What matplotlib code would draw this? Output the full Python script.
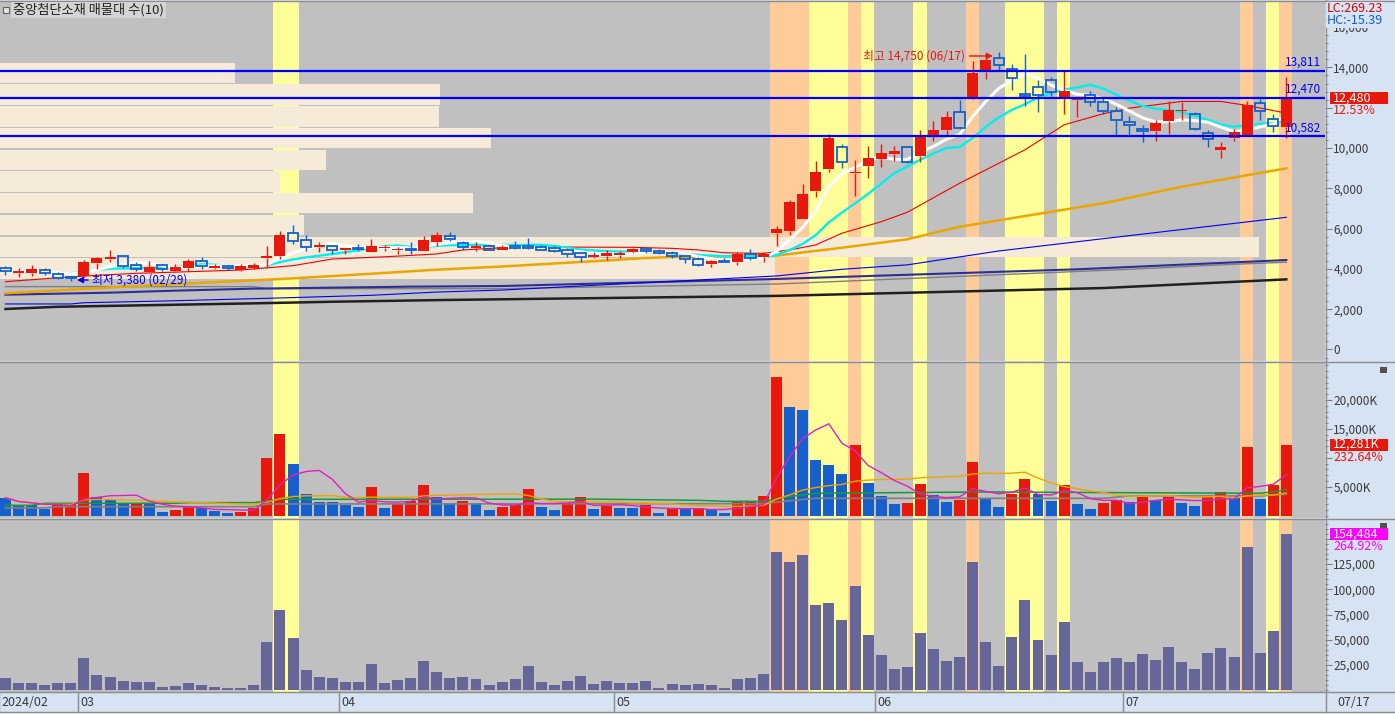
import matplotlib
matplotlib.use("Agg")
import matplotlib.pyplot as plt
from matplotlib.patches import Rectangle
from matplotlib.lines import Line2D
from matplotlib.ticker import MultipleLocator, FuncFormatter
import numpy as np
import pandas as pd

plt.rcParams['font.family'] = ['Noto Sans CJK KR', 'DejaVu Sans']

TITLE = "중앙첨단소재 매물대 수(10)"
month_labels = ["2024/02", "03", "04", "05", "06", "07"]
month_first_day = [0, 6, 26, 47, 67, 86]
last_date = "07/17"

# daily candles, 2024-02-22 .. 2024-07-17
opens = [4050, 3790, 3790, 3950, 3740, 3620, 3650, 4290, 4480, 4620,
         4200, 3840, 4200, 3920, 4040, 4400, 4040, 4120, 3950, 4040,
         4530, 4620, 5790, 5410, 5080, 5140, 4930, 5060, 4830, 5030,
         4930, 5010, 4880, 5330, 5640, 5290, 5060, 5150, 4950, 5150,
         5110, 5100, 5050, 4950, 4770, 4570, 4620, 4700, 4830, 5000,
         4900, 4800, 4650, 4470, 4220, 4400, 4330, 4750, 4580, 5790,
         5860, 6500, 7860, 8950, 10060, 8750, 9100, 9450, 9690, 10050,
         9580, 10620, 10870, 11780, 12520, 13760, 14480, 13900, 12650, 13020,
         13350, 12490, 12360, 12640, 12300, 11860, 11300, 10950, 10850, 11320,
         11820, 11700, 10750, 9900, 10490, 10620, 12250, 11460, 11030]
highs = [4150, 4030, 4170, 4050, 3840, 3670, 4420, 4580, 4950, 4640,
         4330, 4400, 4230, 4250, 4500, 4600, 4250, 4200, 4230, 4280,
         5150, 5900, 6200, 5660, 5330, 5200, 5060, 5260, 5460, 5180,
         5090, 5310, 5610, 5820, 5810, 5370, 5310, 5260, 5210, 5360,
         5520, 5210, 5160, 5060, 4770, 4860, 4930, 4910, 5060, 5050,
         4980, 4900, 4650, 4570, 4430, 4560, 4860, 5010, 4830, 6120,
         7440, 8190, 9330, 10670, 10220, 9380, 10120, 10220, 10120, 10100,
         10870, 11360, 11860, 12400, 14340, 14590, 14750, 14150, 14670, 13350,
         13520, 13830, 12520, 12850, 12520, 12030, 11610, 11150, 11370, 12310,
         12280, 11780, 10870, 10290, 10950, 12350, 12450, 11700, 13500]
lows = [3720, 3620, 3670, 3720, 3500, 3380, 3600, 4000, 4320, 4050,
        3900, 3830, 3920, 3840, 3920, 4000, 3990, 3950, 3900, 3970,
        4050, 4500, 5240, 4910, 4860, 4760, 4760, 4870, 4830, 4870,
        4720, 4760, 4880, 5160, 5390, 4930, 4880, 4950, 4950, 5000,
        4980, 4950, 4830, 4590, 4330, 4530, 4420, 4560, 4780, 4800,
        4750, 4530, 4280, 4150, 4100, 4330, 4200, 4420, 4320, 5160,
        5660, 6500, 7560, 8800, 9030, 7640, 8500, 9050, 9330, 9250,
        9300, 10370, 10620, 10950, 12440, 13430, 13850, 12860, 12060, 11780,
        12600, 11700, 11530, 12080, 11700, 10620, 10650, 10320, 10370, 10700,
        11370, 10870, 10040, 9500, 10370, 10620, 11400, 10790, 10500]
closes = [3900, 3890, 3970, 3800, 3560, 3540, 4320, 4530, 4600, 4120,
          4000, 4090, 3990, 4090, 4370, 4150, 4140, 4020, 4140, 4170,
          4620, 5660, 5380, 5080, 5210, 4950, 5060, 5000, 5160, 5080,
          5010, 4930, 5410, 5660, 5480, 5100, 5160, 4950, 5110, 5050,
          5060, 4950, 4880, 4750, 4600, 4670, 4770, 4770, 5010, 4880,
          4800, 4650, 4500, 4200, 4400, 4330, 4750, 4550, 4720, 5960,
          7300, 7740, 8830, 10490, 9310, 8830, 9480, 9730, 9830, 9300,
          10620, 10900, 11530, 11000, 13730, 14390, 14140, 13480, 12600, 12640,
          12770, 12820, 12490, 12300, 11830, 11400, 11150, 10830, 11250, 11900,
          11860, 10950, 10440, 10040, 10770, 12150, 11860, 11090, 12480]

# volume in thousand shares
volume_k = [3100, 1780, 1750, 1200, 1890, 1950, 7370, 3270, 2700, 2100,
            2250, 2200, 620, 970, 1660, 1260, 850, 450, 680, 1370,
            9960, 14120, 8930, 3740, 2350, 2300, 1780, 1540, 4950, 1370,
            2010, 2470, 5300, 3270, 1950, 2530, 2180, 970, 1490, 1890,
            4600, 1490, 970, 2010, 3220, 1140, 1710, 1310, 1290, 1830,
            450, 1310, 1140, 1310, 1050, 450, 2350, 2400, 3390, 23980,
            18790, 18270, 9620, 8750, 7200, 12210, 5640, 3390, 2010, 2180,
            5470, 3560, 2350, 2700, 9270, 3040, 1490, 3740, 6330, 3740,
            2530, 5290, 2010, 1140, 2180, 2700, 2350, 3220, 2700, 3220,
            2180, 1660, 3390, 4080, 3040, 11870, 2870, 5279, 12281]

# trading value in million won
value_m = [12180, 7230, 7230, 5250, 7230, 7230, 31980, 15150, 13170, 9210,
           8220, 8220, 3270, 4260, 7230, 5250, 3270, 2280, 2280, 5250,
           47820, 79500, 51780, 20100, 13170, 12180, 8220, 8220, 26040, 7230,
           10200, 12180, 29010, 18120, 12180, 13170, 11190, 5250, 8220, 11190,
           24060, 8220, 5250, 9210, 14160, 6240, 9210, 7230, 7230, 9210,
           2280, 6240, 5250, 6240, 5250, 2280, 11190, 12180, 16140, 136900,
           127000, 133950, 84450, 86430, 69600, 103260, 54750, 34950, 21090, 23070,
           56730, 40890, 29010, 32970, 127020, 47820, 24060, 52770, 89400, 49800,
           34950, 67620, 28020, 18120, 28020, 31980, 28020, 35940, 30000, 42870,
           28020, 21090, 36930, 41880, 32970, 141870, 36930, 58313, 154484]

yellow_days = [21, 22, 62, 63, 64, 66, 70, 77, 78, 79, 81, 97]
orange_days = [59, 60, 61, 65, 74, 95, 98]

# volume profile (10 bins), lowest price bin first
profile_low, profile_high = 3480, 14270
profile_share = [775, 1259, 304, 473, 280, 326, 491, 439, 440, 235]

levels = [13811, 12470, 10582]

# longer averages: day index -> value
ma20_pts = {0: 3365, 4: 3560, 7: 3680, 10: 3780, 14: 3860, 18: 3945, 22: 4160,
            25: 4490, 29: 4600, 33: 4740, 35: 4940, 38: 5050, 42: 5085, 48: 5070,
            51: 5020, 53: 4940, 55: 4800, 58: 4770, 60: 4940, 62: 5190, 64: 5770,
            67: 6340, 69: 6810, 73: 8250, 75: 8910, 78: 9910, 81: 11150, 84: 11700,
            86: 11980, 90: 12310, 93: 12310, 95: 12110, 98: 11730}
ma60_pts = {0: 2790, 10: 3150, 15: 3310, 22: 3530, 28: 3760, 33: 3960, 38: 4120,
            45: 4380, 49: 4540, 51: 4590, 59: 4660, 64: 5050, 69: 5470, 73: 6090,
            84: 7260, 90: 8080, 98: 8990}
ma120_pts = {0: 2260, 5: 2260, 6: 2320, 13: 2420, 20: 2540, 28: 2690, 33: 2850,
             38: 2950, 59: 3650, 64: 3980, 69: 4200, 76: 4890, 84: 5500, 98: 6560}
ma_navy_pts = {0: 2720, 8: 2820, 13: 2920, 19: 3020, 31: 3120, 38: 3150, 59: 3500,
               82: 3980, 98: 4440}
ma_gray_pts = {0: 3120, 19: 3120, 20: 3020, 38: 3020, 59: 3250, 86: 3980, 94: 4230,
               98: 4330}
ma_black_pts = {0: 2010, 4: 2120, 12: 2210, 19: 2290, 25: 2370, 34: 2460, 59: 2660,
                84: 3050, 98: 3480}
vol_ma60_pts = {0: 1780, 2: 1780, 3: 2130, 13: 2130, 14: 2240, 19: 2240, 20: 2530,
                21: 2820, 45: 2850, 53: 2640, 55: 2470, 58: 2470, 60: 3290, 62: 3860,
                75: 4090, 86: 3960, 96: 3860, 98: 4430}
vol_ma120_pts = {0: 1330, 3: 1330, 4: 1540, 19: 1540, 20: 2010, 58: 2070, 60: 2580,
                 62: 2990, 84: 2990, 86: 3400, 96: 3400, 98: 3690}

RED = '#E8190C'
BLUE = '#1560CC'
PANEL_BG = '#C0C0C0'
AXIS_BG = '#D6E3F3'
YELLOW = '#FFFF99'
ORANGE = '#FFCC99'
BEIGE = '#F6EAD8'
GRID = '#8C8C8C'
LABEL = '#3A3A3A'

W, H = 1395, 714
fig = plt.figure(figsize=(W / 100, H / 100), dpi=100)
fig.patch.set_facecolor(AXIS_BG)

n = len(closes)
x = np.arange(n)
XLIM = (-0.42, 100.96)


def add_panel(top, bottom, ylim, major, minor, fmt, covered):
    ax = fig.add_axes([0, 1 - bottom / H, 1325 / W, (bottom - top) / H])
    ax.set_facecolor(PANEL_BG)
    ax.set_xlim(*XLIM)
    ax.set_ylim(*ylim)
    for s in ax.spines.values():
        s.set_visible(False)
    ax.tick_params(axis='x', bottom=False, labelbottom=False)
    ax.yaxis.tick_right()
    ax.set_yticks(major)
    ax.yaxis.set_minor_locator(MultipleLocator(minor))
    # the label hidden under the current-value tag is left blank
    ax.yaxis.set_major_formatter(FuncFormatter(lambda v, p: '' if v == covered else fmt(v)))
    ax.tick_params(axis='y', which='major', length=5, width=0.8, color='#808080',
                   labelsize=8.5, labelcolor=LABEL, pad=1)
    ax.tick_params(axis='y', which='minor', length=2.5, width=0.8, color='#808080')
    for d in yellow_days:
        ax.axvspan(d - 0.53, d + 0.47, color=YELLOW, lw=0, zorder=0.5)
    for d in orange_days:
        ax.axvspan(d - 0.53, d + 0.47, color=ORANGE, lw=0, zorder=0.5)
    return ax


ax_p = add_panel(1, 361, (-571, 17295), list(range(0, 16001, 2000)), 400,
                 lambda v: f"{int(v):,}", 12000)
ax_v = add_panel(362, 518, (-415, 26570), [5000, 10000, 15000, 20000], 1000,
                 lambda v: f"{int(v):,}K", 10000)
ax_t = add_panel(520, 692, (-1680, 168600), list(range(25000, 150001, 25000)), 5000,
                 lambda v: f"{int(v):,}", 150000)

# ---- price panel ----
edges = np.linspace(profile_low, profile_high, len(profile_share) + 1)
bin_h = edges[1] - edges[0]
share = np.array(profile_share, dtype=float)
ax_p.barh(edges[:-1] + bin_h / 2, share / share.max() * 96.3, height=bin_h * 0.94,
          left=XLIM[0], color=BEIGE, lw=0, zorder=1)


def sparse_line(ax, pts, **kw):
    ax.plot(list(pts.keys()), list(pts.values()), **kw)


sparse_line(ax_p, ma_black_pts, color='#202020', lw=1.8, zorder=3)
sparse_line(ax_p, ma_gray_pts, color='#808080', lw=1.0, zorder=3)
sparse_line(ax_p, ma_navy_pts, color='#2E2E94', lw=1.5, zorder=3)
sparse_line(ax_p, ma120_pts, color='#0000F0', lw=0.8, zorder=3)
sparse_line(ax_p, ma60_pts, color='#EBA600', lw=1.8, zorder=3)
sparse_line(ax_p, ma20_pts, color='#F00000', lw=0.8, zorder=3)

close_s = pd.Series(closes, dtype=float)
ax_p.plot(x, close_s.rolling(10, min_periods=1).mean(), color='#00F0F0', lw=1.7, zorder=3.1)
ax_p.plot(x, close_s.rolling(5, min_periods=1).mean(), color='white', lw=2.2, zorder=3.2)

o = np.array(opens, dtype=float)
c = np.array(closes, dtype=float)
hi = np.array(highs, dtype=float)
lo = np.array(lows, dtype=float)
up = c >= o
top = np.maximum(o, c)
bot = np.minimum(o, c)
col = np.where(up, RED, BLUE)
ax_p.vlines(x, top, hi, colors=col, lw=1.0, zorder=5)
ax_p.vlines(x, lo, bot, colors=col, lw=1.0, zorder=5)
body = np.maximum(top - bot, 60)
ax_p.bar(x[up], body[up], bottom=bot[up], width=0.84, color=RED, lw=0, zorder=5)
ax_p.bar(x[~up], body[~up], bottom=bot[~up], width=0.78, facecolor='none',
         edgecolor=BLUE, lw=1.3, zorder=5)

for lv in levels:
    ax_p.axhline(lv, color='#0000FF', lw=1.6, zorder=6)
    ax_p.annotate(f"{lv:,}", xy=(100.65, lv), xytext=(0, 1.5), textcoords='offset points',
                  ha='right', va='bottom', color='#0000FF', fontsize=8.5, zorder=7)

ax_p.annotate('최고 14,750 (06/17)', xy=(75.55, 14566), xytext=(-20, 0),
              textcoords='offset points', ha='right', va='center', color=RED, fontsize=8.5,
              arrowprops=dict(arrowstyle='-|>', color=RED, lw=1, shrinkA=1, shrinkB=0,
                              mutation_scale=9), zorder=8)
ax_p.annotate('최저 3,380 (02/29)', xy=(5.47, 3449), xytext=(11, 0),
              textcoords='offset points', ha='left', va='center', color='#0000F0',
              fontsize=8.5,
              arrowprops=dict(arrowstyle='-|>', color='#0000F0', lw=1, shrinkA=1, shrinkB=0,
                              mutation_scale=9), zorder=8)

# ---- volume panel ----
vol = np.array(volume_k, dtype=float)
rising = np.r_[False, vol[1:] > vol[:-1]]
ax_v.bar(x, vol, width=0.84, color=np.where(rising, RED, BLUE), lw=0, zorder=2)
vol_s = pd.Series(vol)
sparse_line(ax_v, vol_ma120_pts, color='#808080', lw=1.2, zorder=3)
sparse_line(ax_v, vol_ma60_pts, color='#169A3A', lw=1.1, zorder=3)
ax_v.plot(x, vol_s.rolling(20, min_periods=1).mean(), color='#F0A400', lw=1.0, zorder=3)
ax_v.plot(x, vol_s.rolling(5, min_periods=1).mean(), color='#E020C0', lw=1.0, zorder=3)

# ---- trading value panel ----
ax_t.bar(x, value_m, width=0.84, color='#666699', lw=0, zorder=2)

# ---- date strip ----
ax_d = fig.add_axes([0, 1 - 712 / H, 1325 / W, 20 / H])
ax_d.set_facecolor(AXIS_BG)
ax_d.set_xlim(*XLIM)
ax_d.set_ylim(0, 1)
ax_d.set_xticks([])
ax_d.set_yticks([])
for s in ax_d.spines.values():
    s.set_visible(False)
for lab, d in zip(month_labels, month_first_day):
    ax_d.axvline(d - 0.46, color=GRID, lw=1)
    ax_d.text(d - 0.46 + 0.17, 0.45, lab, va='center', ha='left', fontsize=9, color=LABEL)
fig.text(1337 / W, 1 - 702 / H, last_date, va='center', ha='left', fontsize=9, color=LABEL)

# ---- frame lines ----
for yy in [0.5, 361.5, 519, 692, 712]:
    fig.add_artist(Line2D([0, 1], [1 - yy / H] * 2, transform=fig.transFigure,
                          color=GRID, lw=1))
fig.add_artist(Line2D([1325.5 / W] * 2, [1 - 712 / H, 1], transform=fig.transFigure,
                      color=GRID, lw=1))
fig.add_artist(Rectangle((0, 0), 1, 1.5 / H, transform=fig.transFigure,
                         facecolor='#F4F4F4', edgecolor='none'))


# ---- right side value tags ----
def tag(ax, value, label, face, pct, pct_color):
    yd = ax.transData.transform((0, value))[1]
    fig.add_artist(Rectangle((1330 / W, (yd - 6) / H), 58 / W, 12 / H,
                             transform=fig.transFigure, facecolor=face, edgecolor='none',
                             zorder=4))
    fig.text(1333 / W, yd / H, label, color='white', fontsize=9, va='center', ha='left',
             zorder=5)
    fig.text(1333 / W, (yd - 12.5) / H, pct, color=pct_color, fontsize=9, va='center',
             ha='left', zorder=5)


tag(ax_p, closes[-1], f"{closes[-1]:,}", RED, "12.53%", RED)
tag(ax_v, volume_k[-1], f"{volume_k[-1]:,}K", RED, "232.64%", RED)
tag(ax_t, value_m[-1], f"{value_m[-1]:,}", '#FF00FF', "264.92%", '#FF00FF')

fig.text(1327 / W, 1 - 9 / H, "LC:269.23", color='#E00000', fontsize=9, va='center',
         ha='left', bbox=dict(facecolor=AXIS_BG, edgecolor='none', pad=0.5))
fig.text(1327 / W, 1 - 21 / H, "HC:-15.39", color='#1060D0', fontsize=9, va='center',
         ha='left', bbox=dict(facecolor=AXIS_BG, edgecolor='none', pad=0.5))

# close icons of the sub panels
for yy in [367, 523]:
    fig.add_artist(Rectangle((1380 / W, 1 - (yy + 6) / H), 7 / W, 6 / H,
                             transform=fig.transFigure, facecolor='#505050', edgecolor='none'))

# title
fig.add_artist(Rectangle((3 / W, 1 - 13 / H), 6 / W, 6 / H, transform=fig.transFigure,
                         facecolor='#E6E6E6', edgecolor='#606060', lw=0.8))
fig.text(13 / W, 1 - 10 / H, TITLE, fontsize=9.5, color='#222222', va='center', ha='left',
         bbox=dict(facecolor='#D4D4D4', edgecolor='none', pad=1.2))

fig.savefig('out.png', dpi=100, facecolor=fig.get_facecolor())
